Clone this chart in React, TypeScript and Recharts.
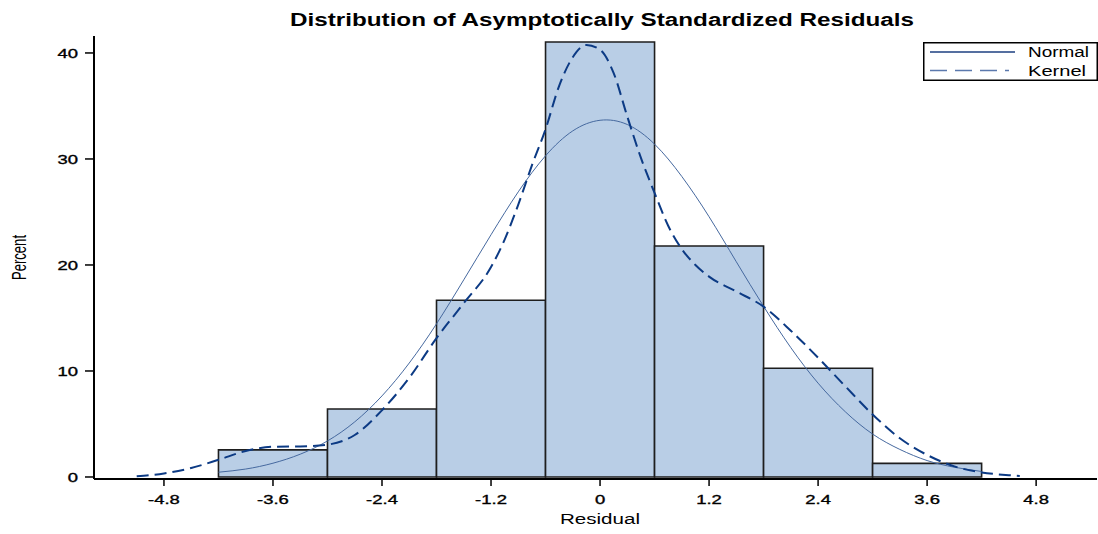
import React from "react";
import { ComposedChart, Line, XAxis, YAxis, ReferenceArea, Legend } from "recharts";

// histogram bins (percent of 78 residuals)
const binStart = [-4.2, -3.0, -1.8, -0.6, 0.6, 1.8, 3.0];
const binEnd = [-3.0, -1.8, -0.6, 0.6, 1.8, 3.0, 4.2];
const binPercent = [2.56, 6.41, 16.67, 41.03, 21.79, 10.26, 1.28];

// fitted normal curve
const normalX = [
  -4.2, -3.9, -3.6, -3.3, -3.0, -2.7, -2.4, -2.1, -1.8, -1.5, -1.2, -0.9, -0.6, -0.3, 0,
  0.3, 0.6, 0.9, 1.2, 1.5, 1.8, 2.1, 2.4, 2.7, 3.0, 3.3, 3.6, 3.9, 4.2,
];
const normalPct = [
  0.45, 0.75, 1.3, 2.15, 3.4, 5.2, 7.65, 10.75, 14.45, 18.6, 22.85, 26.9, 30.3, 32.65, 33.65,
  33.25, 31.4, 28.35, 24.55, 20.3, 16.1, 12.2, 8.85, 6.15, 4.05, 2.6, 1.55, 0.92, 0.52,
];

// kernel density curve
const kernelX = [
  -5.1, -4.8, -4.5, -4.2, -3.9, -3.6, -3.3, -3.0, -2.7, -2.4, -2.1, -1.8, -1.5, -1.2, -1.05,
  -0.9, -0.75, -0.6, -0.45, -0.3, -0.15, 0, 0.15, 0.3, 0.45, 0.6, 0.75, 0.9, 1.05, 1.2,
  1.5, 1.8, 2.1, 2.4, 2.7, 3.0, 3.3, 3.6, 3.9, 4.2, 4.5, 4.62,
];
const kernelPct = [
  0.07, 0.33, 0.85, 1.62, 2.45, 2.85, 2.88, 3.05, 3.96, 6.3, 9.35, 13.1, 16.4, 19.8, 22.4,
  25.7, 29.4, 32.8, 36.9, 39.6, 40.75, 40.3, 38.1, 34.0, 30.1, 26.8, 23.7, 21.5, 20.0, 18.9,
  17.5, 16.07, 13.8, 11.25, 8.55, 5.9, 3.65, 2.08, 1.0, 0.43, 0.17, 0.1,
];

const xTicks = [-4.8, -3.6, -2.4, -1.2, 0, 1.2, 2.4, 3.6, 4.8];
const yTicks = [0, 10, 20, 30, 40];
const legendOrder = ["Normal", "Kernel"];

const FONT = "'Liberation Sans', Arial, sans-serif";
const BAR_FILL = "#b9cee6";
const BAR_EDGE = "#1e1e1e";
const NORMAL = "#46699f";
const KERNEL = "#0c3a84";
const SX = 1.42; // text in the source is stretched horizontally

const keyOf = (v: number) => v.toFixed(2);
const rows = new Map<string, any>();
normalX.forEach((x, i) => {
  const r = rows.get(keyOf(x)) || { x };
  r.normal = normalPct[i];
  rows.set(keyOf(x), r);
});
kernelX.forEach((x, i) => {
  const r = rows.get(keyOf(x)) || { x };
  r.kernel = kernelPct[i];
  rows.set(keyOf(x), r);
});
const curveData = Array.from(rows.values()).sort((a, b) => a.x - b.x);

const tickText = { fontSize: 13, fontFamily: FONT, fill: "#000", stroke: "#000", strokeWidth: 0.35 };

const XTick = ({ x, y, payload }: any) => (
  <g transform={`translate(${x},${y}) scale(${SX},1)`}>
    <text x={0} y={0} dy="0.71em" textAnchor="middle" {...tickText}>
      {String(payload.value)}
    </text>
  </g>
);

const YTick = ({ x, y, payload }: any) => (
  <g transform={`translate(${x},${y}) scale(${SX},1)`}>
    <text x={0} y={0} dy="0.36em" textAnchor="end" {...tickText}>
      {String(payload.value)}
    </text>
  </g>
);

const LegendBox = ({ payload }: any) => {
  const items = legendOrder
    .map((name) => (payload || []).find((p: any) => p.value === name))
    .filter(Boolean);
  return (
    <svg width={175} height={39} style={{ display: "block" }}>
      <rect x={0.75} y={0.75} width={173.5} height={37.5} fill="#fff" stroke="#000" strokeWidth={1.5} />
      {items.map((p: any, i: number) => {
        const yy = i === 0 ? 10 : 28.5;
        const dashed = p.value === "Kernel";
        return (
          <g key={p.value}>
            <line
              x1={7}
              x2={dashed ? 86 : 92}
              y1={yy}
              y2={yy}
              stroke={dashed ? "#5b79ad" : "#1d3f80"}
              strokeWidth={1.5}
              strokeDasharray={dashed ? "17 8" : undefined}
            />
            <text
              x={105}
              y={yy + 5}
              fontSize={14}
              fontFamily={FONT}
              fill="#000"
              textLength={dashed ? 58 : 61}
              lengthAdjust="spacingAndGlyphs"
            >
              {p.value}
            </text>
          </g>
        );
      })}
    </svg>
  );
};

export default function App() {
  return (
    <div style={{ position: "absolute", left: 0, top: 0, width: 1098, height: 534, background: "#fff" }}>
      <ComposedChart
        width={1098}
        height={534}
        data={curveData}
        margin={{ top: 36, right: 1, bottom: 0, left: 34 }}
      >
        <XAxis
          type="number"
          dataKey="x"
          domain={[-5.57, 5.47]}
          allowDataOverflow
          ticks={xTicks}
          interval={0}
          height={55}
          tickSize={7}
          tickMargin={9}
          tick={<XTick />}
          axisLine={{ stroke: "#000", strokeWidth: 2 }}
          tickLine={{ stroke: "#000", strokeWidth: 1.5 }}
        />
        <XAxis
          xAxisId="top"
          orientation="top"
          type="number"
          dataKey="x"
          domain={[-5.57, 5.47]}
          allowDataOverflow
          height={0}
          tick={false}
          tickLine={false}
          axisLine={{ stroke: "#000", strokeWidth: 1.5 }}
        />
        <YAxis
          type="number"
          domain={[-0.19, 41.6]}
          allowDataOverflow
          ticks={yTicks}
          interval={0}
          width={60}
          tickSize={9}
          tickMargin={7}
          tick={<YTick />}
          axisLine={{ stroke: "#000", strokeWidth: 2 }}
          tickLine={{ stroke: "#000", strokeWidth: 1.5 }}
        />
        {binPercent.map((p, i) => (
          <ReferenceArea
            key={i}
            x1={binStart[i]}
            x2={binEnd[i]}
            y1={0}
            y2={p}
            fill={BAR_FILL}
            fillOpacity={1}
            stroke={BAR_EDGE}
            strokeWidth={1.6}
          />
        ))}
        <Line
          name="Normal"
          dataKey="normal"
          type="natural"
          stroke={NORMAL}
          strokeWidth={1}
          dot={false}
          activeDot={false}
          connectNulls
          isAnimationActive={false}
        />
        <Line
          name="Kernel"
          dataKey="kernel"
          type="monotone"
          stroke={KERNEL}
          strokeWidth={2}
          strokeDasharray="12 6"
          dot={false}
          activeDot={false}
          connectNulls
          isAnimationActive={false}
        />
        <Legend
          layout="horizontal"
          verticalAlign="middle"
          align="center"
          content={<LegendBox />}
          wrapperStyle={{ left: 923, top: 42, width: 175, height: 39 }}
        />
      </ComposedChart>
      <svg
        width={1098}
        height={534}
        style={{ position: "absolute", left: 0, top: 0, pointerEvents: "none" }}
      >
        <text
          x={602}
          y={26}
          textAnchor="middle"
          fontSize={17.5}
          fontWeight="bold"
          fontFamily={FONT}
          fill="#000"
          textLength={624}
          lengthAdjust="spacingAndGlyphs"
        >
          Distribution of Asymptotically Standardized Residuals
        </text>
        <text
          x={600}
          y={523.5}
          textAnchor="middle"
          fontSize={14}
          fontFamily={FONT}
          fill="#000"
          textLength={80}
          lengthAdjust="spacingAndGlyphs"
        >
          Residual
        </text>
        <g transform={`translate(26,257.5) scale(${SX},1) rotate(-90)`}>
          <text
            x={0}
            y={0}
            textAnchor="middle"
            fontSize={14}
            fontFamily={FONT}
            fill="#000"
            textLength={45}
            lengthAdjust="spacingAndGlyphs"
          >
            Percent
          </text>
        </g>
      </svg>
    </div>
  );
}
